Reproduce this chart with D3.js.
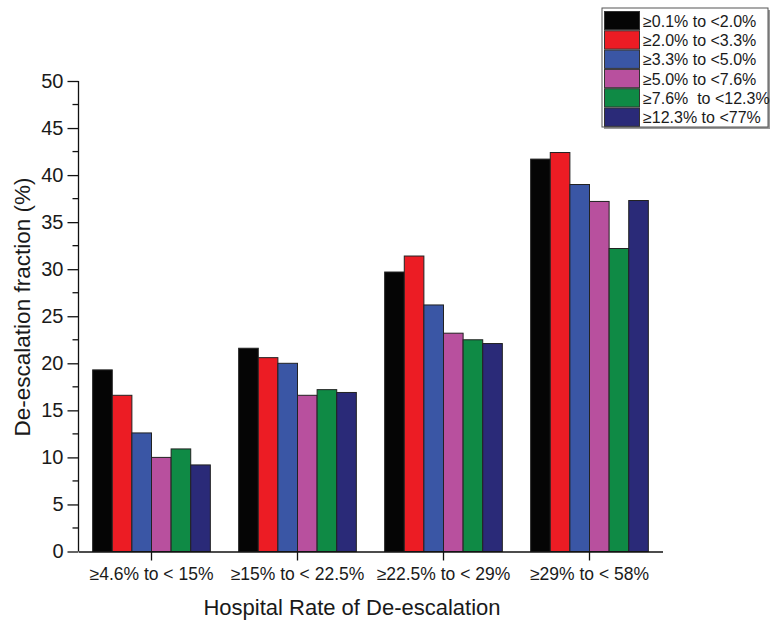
<!DOCTYPE html>
<html><head><meta charset="utf-8">
<script src="https://cdn.jsdelivr.net/npm/d3@7"></script>
<style>body{margin:0;background:#fff}svg{display:block}text{font-family:"Liberation Sans",Arial,sans-serif}</style>
</head><body>
<svg id="c" width="771" height="629"></svg>
<script>
const categories = ["≥4.6% to < 15%", "≥15% to < 22.5%", "≥22.5% to < 29%", "≥29% to < 58%"];
const seriesNames = ["≥0.1% to <2.0%", "≥2.0% to <3.3%", "≥3.3% to <5.0%", "≥5.0% to <7.6%", "≥7.6%  to <12.3%", "≥12.3% to <77%"];
const s1 = [19.3, 21.6, 29.7, 41.7];
const s2 = [16.6, 20.6, 31.4, 42.4];
const s3 = [12.6, 20.0, 26.2, 39.0];
const s4 = [10.0, 16.6, 23.2, 37.2];
const s5 = [10.9, 17.2, 22.5, 32.2];
const s6 = [9.2, 16.9, 22.1, 37.3];
const seriesValues = [s1, s2, s3, s4, s5, s6];
const yTicks = [0, 5, 10, 15, 20, 25, 30, 35, 40, 45, 50];
const colors = ["#050505", "#ec1c24", "#3a56a5", "#b8509e", "#0f8a45", "#2a2a78"];

const svg = d3.select("#c");
const x0 = d3.scaleBand().domain(categories).range([78.5, 662.5]).paddingInner(0).paddingOuter(0);
const inner = 0.806;
const x1 = d3.scaleBand().domain(d3.range(seriesNames.length)).range([0, x0.bandwidth() * inner]);
const y = d3.scaleLinear().domain([0, 50]).range([551.5, 81]);

// bars
const g = svg.append("g");
categories.forEach((c, ci) => {
  const off = x0(c) + x0.bandwidth() * (1 - inner) / 2;
  seriesValues.forEach((sv, si) => {
    g.append("rect")
      .attr("x", off + x1(si))
      .attr("y", y(sv[ci]))
      .attr("width", x1.bandwidth())
      .attr("height", y(0) - y(sv[ci]))
      .attr("fill", colors[si])
      .attr("stroke", "#222")
      .attr("stroke-width", 1);
  });
});

// y axis
const yAxis = d3.axisLeft(y).tickValues(yTicks).tickSize(11).tickPadding(4);
const ya = svg.append("g").attr("transform", "translate(78.5,0)").call(yAxis);
ya.select(".domain").attr("stroke", "#111").attr("stroke-width", 1.3).attr("d", `M-0,${y(50)}V${y(0)}`);
ya.selectAll(".tick line").attr("stroke", "#111").attr("stroke-width", 1.3);
ya.selectAll(".tick text").attr("font-size", 20).attr("fill", "#1a1a1a").attr("font-family", "Liberation Sans, Arial, sans-serif");
// minor ticks
const minor = d3.range(2.5, 50, 5);
ya.selectAll(".minor").data(minor).enter().append("line")
  .attr("x1", -6).attr("x2", 0).attr("y1", d => y(d)).attr("y2", d => y(d))
  .attr("stroke", "#111").attr("stroke-width", 1.3);

// x axis
const xAxis = d3.axisBottom(x0).tickSize(9).tickPadding(7).tickSizeOuter(0);
const xa = svg.append("g").attr("transform", `translate(0,${y(0)})`).call(xAxis);
xa.select(".domain").attr("stroke", "#111").attr("stroke-width", 1.3);
xa.selectAll(".tick line").attr("stroke", "#111").attr("stroke-width", 1.3);
xa.selectAll(".tick text").attr("font-size", 17.5).attr("fill", "#1a1a1a").attr("font-family", "Liberation Sans, Arial, sans-serif");

// titles
svg.append("text").attr("x", 352).attr("y", 615).attr("text-anchor", "middle")
  .attr("font-size", 22).attr("fill", "#1a1a1a").text("Hospital Rate of De-escalation");
svg.append("text").attr("transform", `translate(30,307) rotate(-90)`).attr("text-anchor", "middle")
  .attr("font-size", 22.5).attr("fill", "#1a1a1a").text("De-escalation fraction (%)");

// legend
const lx = 602, ly = 8, lw = 166, lh = 119;
svg.append("rect").attr("x", lx + 2).attr("y", ly + 2).attr("width", lw).attr("height", lh).attr("fill", "#999");
svg.append("rect").attr("x", lx).attr("y", ly).attr("width", lw).attr("height", lh).attr("fill", "#fff").attr("stroke", "#555").attr("stroke-width", 1);
const rowH = 19.3;
seriesNames.forEach((n, i) => {
  svg.append("rect").attr("x", lx + 2.5).attr("y", ly + 3.5 + i * rowH).attr("width", 35).attr("height", rowH - 1)
    .attr("fill", colors[i]).attr("stroke", "#333").attr("stroke-width", 1);
  svg.append("text").attr("x", lx + 41).attr("y", ly + 3.5 + i * rowH + rowH / 2 + 5.5)
    .attr("font-size", 16).attr("fill", "#1a1a1a").style("white-space", "pre").text(n);
});
</script>
</body></html>
